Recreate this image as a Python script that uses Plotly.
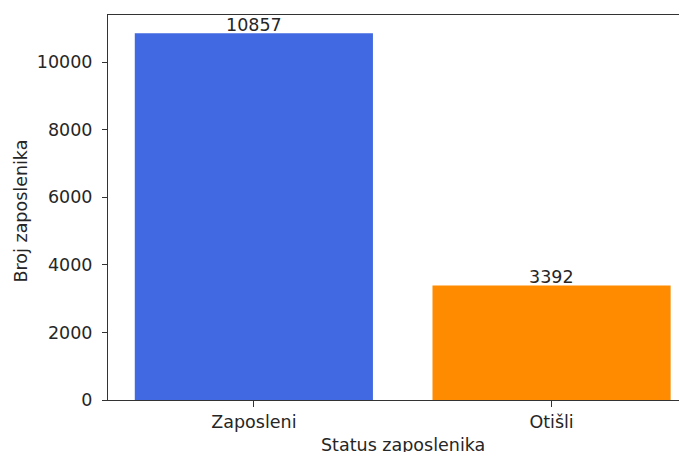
import plotly.graph_objects as go

status = ["Zaposleni", "Otišli"]
broj = [10857, 3392]
boje = ["#4169E1", "#FF8C00"]
y_ticks = [0, 2000, 4000, 6000, 8000, 10000]

font = dict(family="DejaVu Sans", size=17.5, color="#262626")

fig = go.Figure(
    data=[
        go.Bar(
            x=status,
            y=broj,
            marker=dict(color=boje, line=dict(width=0)),
            width=0.8,
            hoverinfo="x+y",
        )
    ]
)

# vrijednosti iznad stupaca
for s, b in zip(status, broj):
    fig.add_annotation(
        x=s, y=b, text=str(b), showarrow=False,
        yanchor="bottom", yshift=-4, font=font,
    )

fig.add_annotation(
    x=0.5, y=0, xref="paper", yref="paper", text="Status zaposlenika",
    showarrow=False, yanchor="top", yshift=-33, xshift=5, font=font,
)
fig.add_annotation(
    x=0, y=0.5, xref="paper", yref="paper", text="Broj zaposlenika",
    showarrow=False, textangle=-90, xanchor="center", xshift=-88, yshift=-4,
    font=font,
)

# stranica ima 8px margine tijela, pa je figura toliko manja
fig.update_layout(
    width=679,
    height=444,
    margin=dict(l=100, r=0, t=7, b=52),
    paper_bgcolor="white",
    plot_bgcolor="white",
    font=font,
    showlegend=False,
    xaxis=dict(
        type="category",
        range=[-0.49, 1.455],
        showline=True, linecolor="#333", linewidth=1, mirror=True,
        ticks="outside", ticklen=6, tickcolor="#333",
        showgrid=False, zeroline=False,
        tickfont=font,
    ),
    yaxis=dict(
        range=[0, 11400],
        tickvals=y_ticks,
        ticktext=[str(t) for t in y_ticks],
        showline=True, linecolor="#333", linewidth=1,
        ticks="outside", ticklen=5, tickcolor="#333",
        showgrid=False, zeroline=False,
        tickfont=font,
        ticklabelstandoff=6,
    ),
)

fig.write_html("out.html")
